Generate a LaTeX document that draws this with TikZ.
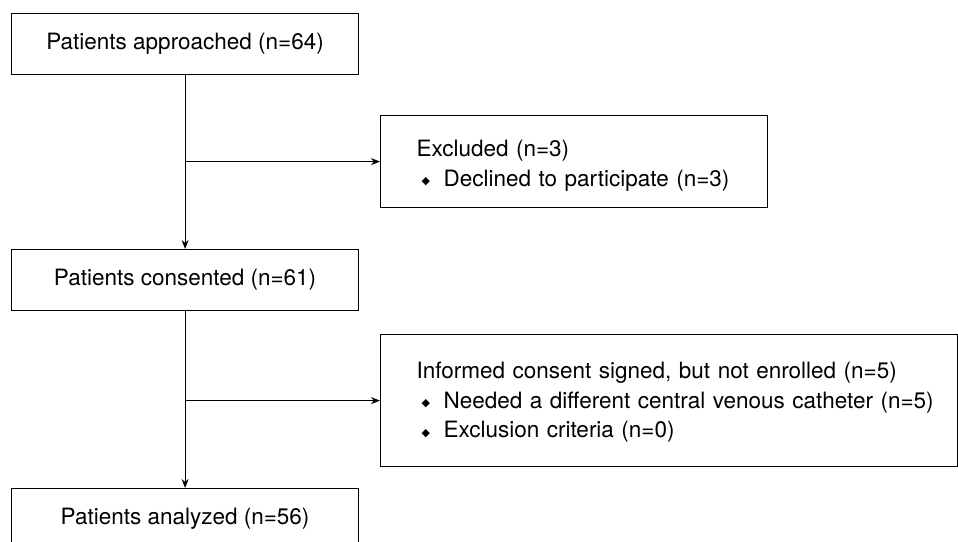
\documentclass[tikz,border=0pt]{standalone}
\usepackage{fontspec}
\setmainfont{TeX Gyre Heros}
\newfontfamily\symfont{DejaVu Sans}
\usepackage{tikz}
\usetikzlibrary{arrows.meta,positioning}

\newcommand{\dmd}{\hspace*{5pt}\makebox[22pt][l]{\symfont\fontsize{11}{11}\selectfont\raisebox{1.5pt}{◆}}}

\begin{document}
\begin{tikzpicture}[x=1pt, y=-1pt, line width=1.2pt,
  mainbox/.style={draw, anchor=north west, minimum width=347pt, minimum height=61pt, inner sep=0pt},
  sidebox/.style={draw, anchor=north west, inner xsep=0pt, inner ysep=0pt, align=left,
    execute at begin node={\leftskip=36pt}},
  arr/.style={-{Stealth[length=9pt, width=7pt]}}]
\useasboundingbox (0, 0) rectangle (958, 541);
\clip (0, 0) rectangle (958, 541);
\fontsize{22.5}{29.5}\selectfont

\node[mainbox] (appr) at (11, 13) {Patients approached (n=64)};
\node[mainbox] (cons) at (11, 249) {Patients consented (n=61)};
\node[mainbox] (anal) at (11, 488) {Patients analyzed (n=56)};

\node[sidebox, text width=387pt, minimum height=92pt] (excl) at (380, 115)
  {\rule{0pt}{25pt}Excluded (n=3)\\\dmd Declined to participate (n=3)};
\node[sidebox, text width=577pt, minimum height=132pt] (notenr) at (380, 334)
  {\rule{0pt}{20pt}Informed consent signed, but not enrolled (n=5)\\\dmd Needed a different central venous catheter (n=5)\\\dmd Exclusion criteria (n=0)};

\draw[arr] (appr) -- (cons);
\draw[arr] (appr.south |- excl.west) -- (excl.west);
\draw[arr] (cons) -- (anal);
\draw[arr] (cons.south |- notenr.west) -- (notenr.west);
\end{tikzpicture}
\end{document}
